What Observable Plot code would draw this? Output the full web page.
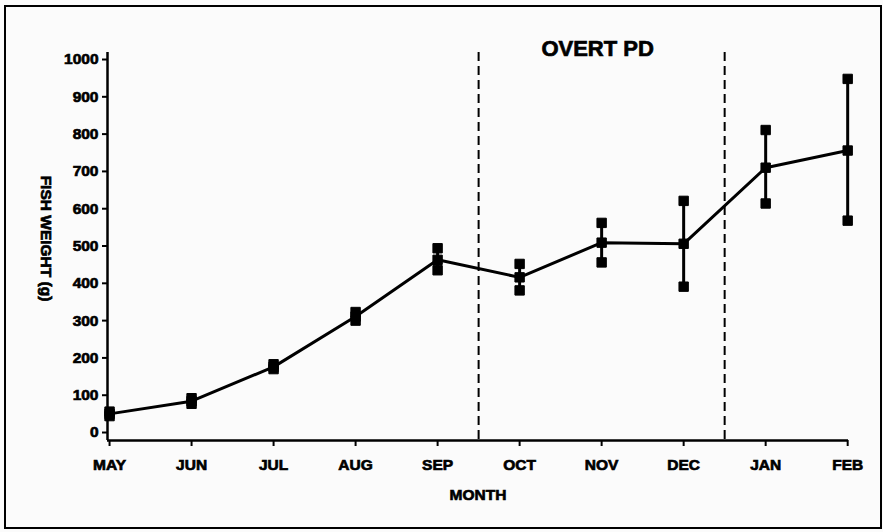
<!DOCTYPE html>
<html>
<head>
<meta charset="utf-8">
<script src="https://cdn.jsdelivr.net/npm/d3@7"></script>
<script src="https://cdn.jsdelivr.net/npm/@observablehq/plot@0.6"></script>
<style>
  html, body { margin: 0; padding: 0; background: #fbfbfb; }
  #wrap { position: relative; width: 883px; height: 532px; overflow: hidden; }
  #border { position: absolute; left: 4px; top: 5px; width: 874px; height: 520px; border: 2.5px solid #000; pointer-events: none; }
  svg text { font-family: "Liberation Sans", Arial, sans-serif; font-weight: bold; }
  svg g[aria-label$="tick label"] text, svg g[aria-label="text"] text { stroke: #000; stroke-width: 0.7px; }
</style>
</head>
<body>
<div id="wrap"><div id="border"></div></div>
<script>
const months = ["MAY", "JUN", "JUL", "AUG", "SEP", "OCT", "NOV", "DEC", "JAN", "FEB"];
const meanWeight = [50, 84, 176, 311, 463, 416, 509, 506, 710, 756];
const lowerWeight = [44, 77, 170, 300, 435, 381, 456, 391, 614, 568];
const upperWeight = [56, 92, 183, 323, 494, 452, 562, 621, 811, 948];
const yTicks = [0, 100, 200, 300, 400, 500, 600, 700, 800, 900, 1000];
const periodBreaks = [4.5, 7.5];
const titleText = "OVERT PD";
const yLabel = "FISH WEIGHT (g)";
const xLabel = "MONTH";

const data = months.map((m, i) => ({i, m, mean: meanWeight[i], lo: lowerWeight[i], hi: upperWeight[i]}));
const caps = data.flatMap(d => [{i: d.i, v: d.lo}, {i: d.i, v: d.hi}]);

const chart = Plot.plot({
  width: 883,
  height: 532,
  marginLeft: 107,
  marginRight: 35,
  marginTop: 52,
  marginBottom: 92,
  style: {background: "transparent", color: "#000", fontSize: "14px"},
  x: {domain: [-0.025, 9.01], axis: null},
  y: {domain: [-21.4, 1018.8], axis: null},
  marks: [
    Plot.ruleX([-0.025], {stroke: "#000", strokeWidth: 2.5}),
    Plot.ruleY([-21.4], {stroke: "#000", strokeWidth: 2.5}),
    Plot.axisY(yTicks, {anchor: "left", tickSize: 5, tickPadding: 4, strokeWidth: 2, fontSize: 15.5, fontWeight: "bold", tickFormat: d => String(d), label: null}),
    Plot.axisX(months.map((m, i) => i), {anchor: "bottom", tickSize: 6, tickPadding: 12, strokeWidth: 2, fontSize: 15.5, fontWeight: "bold", tickFormat: i => months[i], label: null}),
    Plot.ruleX(periodBreaks, {stroke: "#000", strokeWidth: 2, strokeDasharray: "9,5"}),
    Plot.ruleX(data, {x: "i", y1: "lo", y2: "hi", stroke: "#000", strokeWidth: 3}),
    Plot.line(data, {x: "i", y: "mean", stroke: "#000", strokeWidth: 3}),
    Plot.dot(caps, {x: "i", y: "v", symbol: "square", r: 5.3, fill: "#000", stroke: "#000", strokeWidth: 1, strokeLinejoin: "round"}),
    Plot.dot(data, {x: "i", y: "mean", symbol: "square", r: 5.3, fill: "#000", stroke: "#000", strokeWidth: 1, strokeLinejoin: "round"}),
    Plot.text([titleText], {x: 6, frameAnchor: "top", dx: -4, dy: 3, text: d => d, fontSize: 22, fontWeight: "bold", fill: "#000", lineAnchor: "bottom"}),
    Plot.text([yLabel], {frameAnchor: "left", dx: -62, dy: -8, rotate: 90, textAnchor: "middle", lineAnchor: "middle", text: d => d, fontSize: 15.5, fontWeight: "bold", fill: "#000"}),
    Plot.text([xLabel], {frameAnchor: "bottom", dy: 59, text: d => d, fontSize: 15.5, fontWeight: "bold", fill: "#000"})
  ]
});
document.getElementById("wrap").prepend(chart);
</script>
</body>
</html>
